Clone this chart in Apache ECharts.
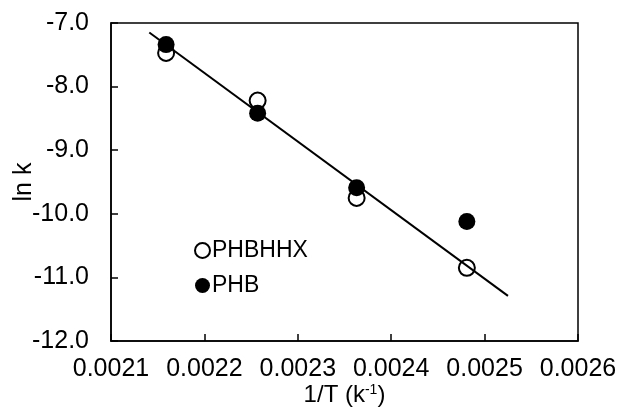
<!DOCTYPE html>
<html>
<head>
<meta charset="utf-8">
<script src="https://cdn.jsdelivr.net/npm/echarts@6/dist/echarts.min.js"></script>
<style>
  html, body { margin: 0; padding: 0; background: #fff; }
  #chart { width: 621px; height: 416px; }
</style>
</head>
<body>
<div id="chart"></div>
<script>
// 1/T values (k^-1)
const invT = [0.002159, 0.002257, 0.002363, 0.002481]
// ln k for each polymer
const phbhhx = [-7.47, -8.22, -9.75, -10.85]
const phb = [-7.34, -8.42, -9.59, -10.12]
// fitted line end points
const fitX = [0.002141, 0.002525]
const fitY = [-7.15, -11.29]

const chart = echarts.init(document.getElementById('chart'), null, { renderer: 'canvas' })

const font = 'Liberation Sans, Arial, sans-serif'
const ink = '#000'

const option = {
  backgroundColor: '#fff',
  animation: false,
  grid: {
    left: 111, right: 43, top: 23, bottom: 75,
    outerBoundsMode: 'none',
    containLabel: false,
    show: true,
    borderColor: ink,
    borderWidth: 1.5
  },
  legend: {
    orient: 'vertical',
    left: 189,
    top: 234,
    itemWidth: 15,
    itemHeight: 15,
    itemGap: 12,
    data: ['PHBHHX', 'PHB'],
    textStyle: { fontFamily: font, fontSize: 23, color: ink, padding: [0, 0, 0, -3] }
  },
  xAxis: {
    type: 'value',
    min: 0.0021,
    max: 0.0026,
    interval: 0.0001,
    name: '1/T (k{sup|-1})',
    nameLocation: 'middle',
    nameGap: 42,
    nameMoveOverlap: false,
    nameTextStyle: {
      fontFamily: font, fontSize: 24, color: ink,
      rich: { sup: { fontFamily: font, fontSize: 14, color: ink, verticalAlign: 'top', padding: [0, 0, 10, 0] } }
    },
    axisLine: { lineStyle: { color: ink, width: 1.5 } },
    axisTick: { inside: true, length: 7, lineStyle: { color: ink, width: 1.5 } },
    axisLabel: {
      fontFamily: font, fontSize: 25, color: ink, margin: 16,
      formatter: v => v.toFixed(4)
    },
    splitLine: { show: false }
  },
  yAxis: {
    type: 'value',
    min: -12,
    max: -7,
    interval: 1,
    name: 'ln k',
    nameLocation: 'middle',
    nameGap: 74,
    nameMoveOverlap: false,
    nameTextStyle: { fontFamily: font, fontSize: 25, color: ink },
    axisLine: { lineStyle: { color: ink, width: 1.5 } },
    axisTick: { inside: true, length: 7, lineStyle: { color: ink, width: 1.5 } },
    axisLabel: {
      fontFamily: font, fontSize: 25, color: ink, margin: 22,
      formatter: v => v.toFixed(1)
    },
    splitLine: { show: false }
  },
  series: [
    {
      name: 'PHBHHX',
      type: 'scatter',
      symbol: 'circle',
      symbolSize: 16,
      itemStyle: { color: '#fff', borderColor: ink, borderWidth: 2, opacity: 1 },
      data: invT.map((x, i) => [x, phbhhx[i]]),
      z: 2
    },
    {
      name: 'PHB',
      type: 'scatter',
      symbol: 'circle',
      symbolSize: 17,
      itemStyle: { color: ink, borderColor: ink, borderWidth: 0, opacity: 1 },
      data: invT.map((x, i) => [x, phb[i]]),
      z: 3
    },
    {
      name: 'fit',
      type: 'line',
      symbol: 'none',
      lineStyle: { color: ink, width: 2 },
      data: fitX.map((x, i) => [x, fitY[i]]),
      z: 4
    }
  ]
}

chart.setOption(option)
</script>
</body>
</html>
